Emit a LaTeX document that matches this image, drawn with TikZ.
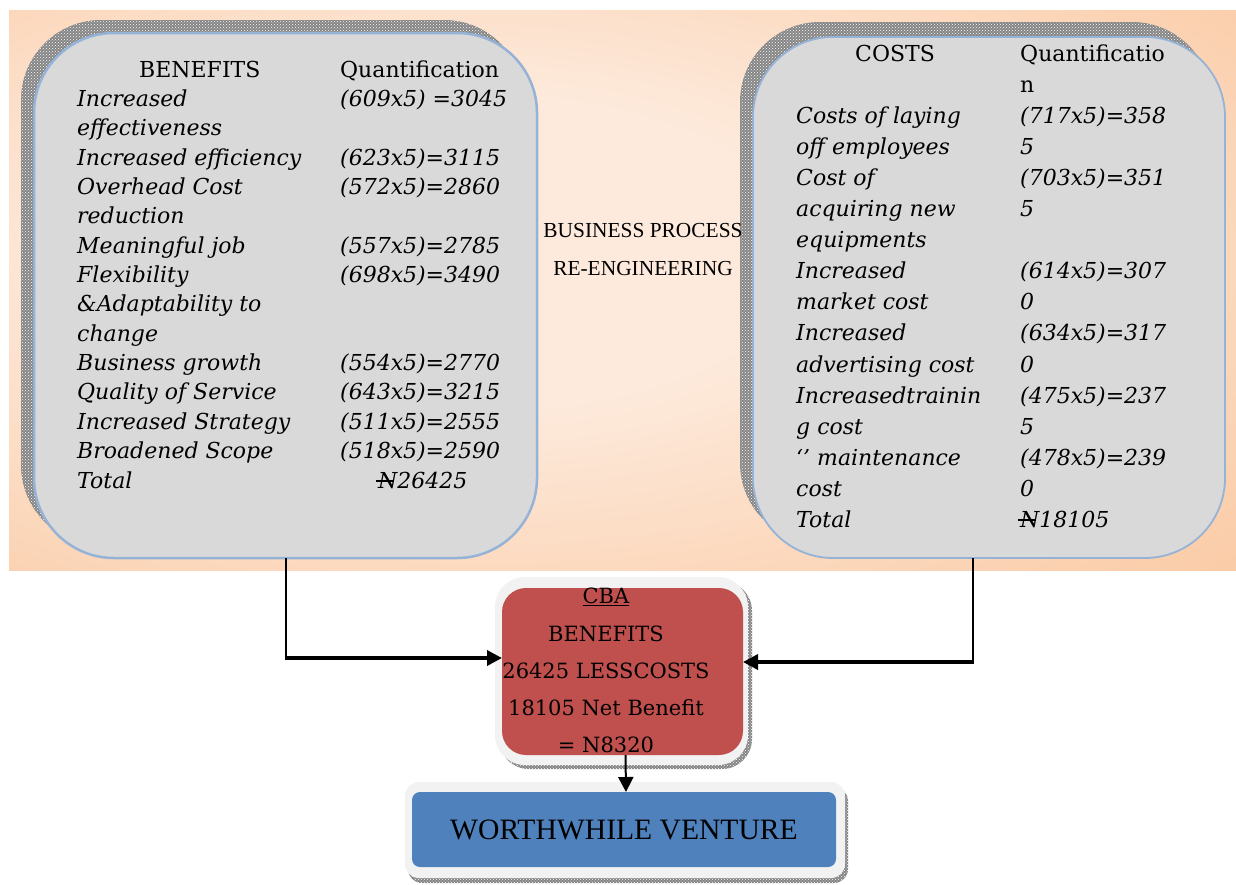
\documentclass[tikz,border=0pt]{standalone}
\usepackage{fontspec}
\setmainfont{DejaVu Serif}
\newfontfamily\tnr{Liberation Serif}
\usetikzlibrary{arrows.meta,patterns}
\definecolor{peachL}{HTML}{FDEADC}
\definecolor{peachD}{HTML}{F9BA88}
\definecolor{boxgray}{HTML}{D9D9D9}
\definecolor{boxblue}{HTML}{95B3D7}
\definecolor{cbared}{HTML}{C0504D}
\definecolor{wvblue}{HTML}{4F81BD}
\definecolor{outergray}{HTML}{F2F2F2}
\pgfdeclareradialshading{peachshade}{\pgfpoint{-8bp}{4bp}}{color(0bp)=(peachL); color(14bp)=(peachL); color(55bp)=(peachD); color(90bp)=(peachD)}
\newcommand\bxf{\fontsize{22}{26}\selectfont}
\newcommand\cbf{\fontsize{21}{25}\selectfont}
\newcommand\naira{\makebox[0pt][l]{\hspace{-0.12em}\raisebox{0.28em}{\rule{0.85em}{0.1em}}}N}
\tikzset{
  shadowfill/.style={fill=black!48, postaction={pattern=crosshatch dots, pattern color=white}},
  bigbox/.style={draw=boxblue, fill=boxgray, line width=2.5pt, rounded corners=80pt, inner sep=0pt, outer sep=0pt},
  lt/.style={font=\bxf\itshape, anchor=base west, inner sep=0pt},
  hd/.style={font=\bxf, anchor=base west, inner sep=0pt},
  ct/.style={font=\cbf, anchor=base, inner sep=0pt},
  bp/.style={font=\tnr\fontsize{21.4}{25}\selectfont, anchor=base, inner sep=0pt},
  conn/.style={line width=2pt},
  connh/.style={line width=3.5pt, -{Triangle[length=15pt,width=15pt]}}
}
\begin{document}
\begin{tikzpicture}[x=1pt,y=-1pt]
\useasboundingbox (0,0) rectangle (1236,884);
% background
\shade[shading=peachshade] (9,10) rectangle (1236,570);
% shadows
\fill[shadowfill, rounded corners=80pt] (21,20) rectangle (524,545);
\fill[shadowfill, rounded corners=80pt] (740,22) rectangle (1212,543);
\fill[shadowfill, rounded corners=30pt] (499,581) rectangle (752,769);
\fill[shadowfill, rounded corners=14pt] (408,787) rectangle (848,883);
% boxes
\node[bigbox, minimum width=503pt, minimum height=525pt] (ben) at (285.5,295.5) {};
\node[bigbox, line width=1.8pt, minimum width=472pt, minimum height=521pt] (cost) at (989,297.5) {};
\node[fill=outergray, rounded corners=30pt, minimum width=253pt, minimum height=188pt, inner sep=0pt, outer sep=0pt] (cbaout) at (621.5,671) {};
\node[fill=cbared, rounded corners=24pt, minimum width=241pt, minimum height=167pt, inner sep=0pt, outer sep=0pt] (cba) at (622.5,671.5) {};
\node[fill=outergray, rounded corners=14pt, minimum width=440pt, minimum height=96pt, inner sep=0pt, outer sep=0pt] (wvout) at (625,830) {};
\node[fill=wvblue, rounded corners=8pt, minimum width=424pt, minimum height=75pt, inner sep=0pt, outer sep=0pt, font=\tnr\fontsize{29.6}{33}\selectfont] (wv) at (624,829.5) {WORTHWHILE VENTURE};
% benefits texts
\node[hd] (bh1) at (139,77) {BENEFITS};
\node[hd] (bh2) at (340,77) {Quantification};
\foreach \r/\t in {1/Increased, 2/effectiveness, 3/Increased efficiency, 4/Overhead Cost, 5/reduction, 6/Meaningful job, 7/Flexibility, 8/\&Adaptability to, 9/change, 10/Business growth, 11/Quality of Service, 12/Increased Strategy, 13/Broadened Scope, 14/Total}
  \node[lt] (bl\r) at (77,{77+29.36*\r}) {\t};
\foreach \r/\t in {1/(609x5) =3045, 3/(623x5)=3115, 4/(572x5)=2860, 6/(557x5)=2785, 7/(698x5)=3490, 10/(554x5)=2770, 11/(643x5)=3215, 12/(511x5)=2555, 13/(518x5)=2590}
  \node[lt] (bv\r) at (340,{77+29.36*\r}) {\t};
\node[lt] (bv14) at (378,{77+29.36*14}) {\naira26425};
% costs texts
\node[hd] (ch1) at (855,61) {COSTS};
\node[hd] (ch2) at (1020,61) {Quantificatio};
\node[hd] (ch3) at (1020,92) {n};
\foreach \r/\t in {2/Costs of laying, 3/off employees, 4/Cost of, 5/acquiring new, 6/equipments, 7/Increased, 8/market cost, 9/Increased, 10/advertising cost, 11/Increasedtrainin, 12/g cost, 13/\textquoteleft\textquoteright\ maintenance, 14/cost, 15/Total}
  \node[lt] (cl\r) at (796,{61+31.1*\r}) {\t};
\foreach \r/\t in {2/(717x5)=358, 3/5, 4/(703x5)=351, 5/5, 7/(614x5)=307, 8/0, 9/(634x5)=317, 10/0, 11/(475x5)=237, 12/5, 13/(478x5)=239, 14/0}
  \node[lt] (cv\r) at (1020,{61+31.1*\r}) {\t};
\node[lt] (cv15) at (1020,{61+31.1*15}) {\naira18105};
% middle label
\node[bp] (bpr1) at (643,237) {BUSINESS PROCESS};
\node[bp] (bpr2) at (643,275) {RE-ENGINEERING};
% CBA texts
\node[ct] (cb1) at (606,603) {\underline{CBA}};
\node[ct] (cb2) at (606,641) {BENEFITS};
\node[ct] (cb3) at (606,678) {26425 LESSCOSTS};
\node[ct] (cb4) at (606,715) {18105 Net Benefit};
\node[ct] (cb5) at (606,752) {= N8320};
% connectors
\coordinate (lt) at ([yshift=13.5pt]cba.west);
\coordinate (rt) at ([yshift=9.5pt]cba.east);
\coordinate (lc) at (ben.south |- lt);
\coordinate (rs) at ([xshift=-16pt]cost.south);
\coordinate (rc) at (rs |- rt);
\draw[conn] (ben.south) -- ([yshift=-1.75pt]lc);
\draw[connh] ([xshift=-1pt]lc) -- (lt);
\draw[conn] (rs) -- ([yshift=-1.75pt]rc);
\draw[connh] ([xshift=1pt]rc) -- (rt);
\draw[line width=2pt, -{Triangle[length=15pt,width=15pt]}] ([xshift=3pt]cba.south) -- ([xshift=2pt]wv.north);
\end{tikzpicture}
\end{document}
